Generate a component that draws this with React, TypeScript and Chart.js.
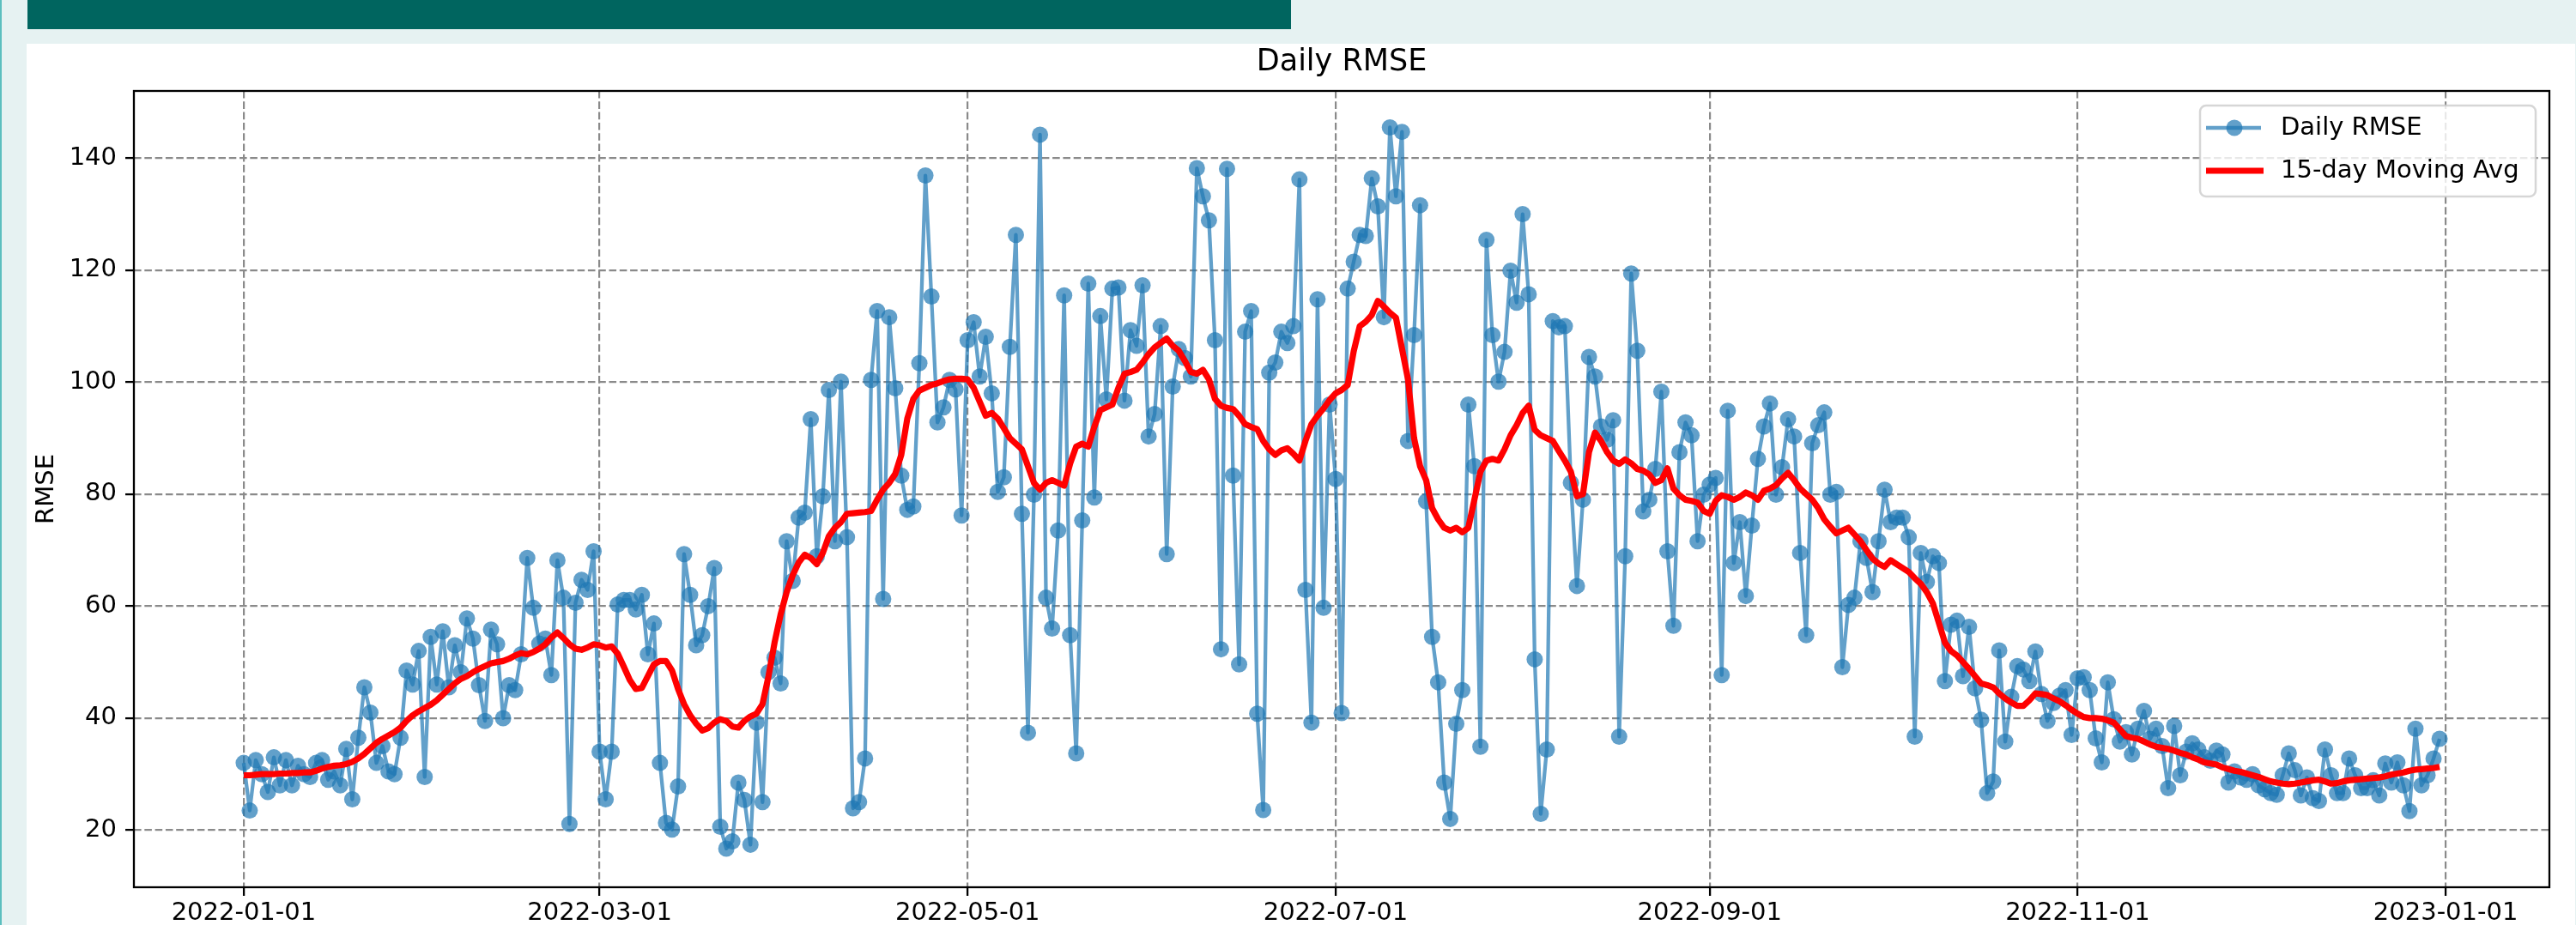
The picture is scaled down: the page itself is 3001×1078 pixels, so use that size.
import React, { useEffect, useRef } from 'react';
import { Chart, registerables } from 'chart.js';

Chart.register(...registerables);

const FONT = '"DejaVu Sans", sans-serif';
const TITLE = 'Daily RMSE';
const Y_LABEL = 'RMSE';
const SERIES_LABELS = ['Daily RMSE', '15-day Moving Avg'];

// x positions are day indices counted from 2022-01-01
const tickDays = [0, 59, 120, 181, 243, 304, 365];
const tickLabels = ['2022-01-01', '2022-03-01', '2022-05-01', '2022-07-01', '2022-09-01', '2022-11-01', '2023-01-01'];
const yTicks = [20, 40, 60, 80, 100, 120, 140];

const dailyRmse = [
  32, 23.5, 32.5, 30, 26.8, 33, 28, 32.5, 28, 31.5,
  30, 29.5, 32, 32.5, 29, 30.5, 28, 34.5, 25.5, 36.5,
  45.5, 41, 32, 35, 30.5, 30, 36.5, 48.5, 46, 52,
  29.5, 54.5, 46, 55.5, 45.5, 53, 48.2, 57.8, 54.2, 45.9,
  39.5, 55.8, 53.2, 40, 45.9, 45, 51.4, 68.6, 59.7, 53.3,
  54.2, 47.7, 68.2, 61.5, 21.1, 60.6, 64.7, 62.9, 69.8, 34,
  25.5, 34, 60.3, 61.1, 61.1, 59.4, 62, 51.4, 56.9, 32,
  21.3, 20.1, 27.8, 69.3, 62, 53, 54.8, 60, 66.8, 20.6,
  16.7, 18, 28.5, 25.4, 17.4, 39.2, 25, 48.2, 50.8, 46.2,
  71.6, 64.5, 75.8, 76.7, 93.4, 68.9, 79.6, 98.6, 71.6, 100.1,
  72.3, 23.9, 25, 32.8, 100.4, 112.7, 61.3, 111.6, 98.9, 83.3,
  77.2, 77.8, 103.4, 136.9, 115.3, 92.8, 95.5, 100.4, 98.7, 76.2,
  107.5, 110.7, 101, 108.1, 98, 80.4, 83, 106.3, 126.3, 76.5,
  37.4, 79.9, 144.2, 61.5, 56, 73.5, 115.5, 54.8, 33.7, 75.3,
  117.6, 79.4, 111.8, 96.9, 116.7, 116.9, 96.7, 109.3, 106.5, 117.3,
  90.3, 94.3, 110, 69.3, 99.2, 105.9, 104.3, 101, 138.2, 133.2,
  128.9, 107.5, 52.3, 138.1, 83.3, 49.6, 109, 112.7, 40.8, 23.6,
  101.7, 103.5, 109, 107, 110, 136.2, 62.9, 39.2, 114.8, 59.7,
  96, 82.7, 40.9, 116.7, 121.5, 126.3, 126.1, 136.4, 131.4, 111.6,
  145.5, 133.2, 144.7, 89.5, 108.4, 131.6, 78.7, 54.5, 46.4, 28.5,
  22, 39, 45, 96, 85, 34.9, 125.4, 108.4, 100.1, 105.4,
  119.9, 114.2, 130, 115.7, 50.5, 22.9, 34.4, 110.9, 109.8, 110,
  82, 63.6, 79, 104.5, 101, 92.1, 89.7, 93.2, 36.7, 68.9,
  119.4, 105.6, 76.9, 79, 84.5, 98.3, 69.8, 56.5, 87.5, 92.8,
  90.5, 71.6, 79.9, 81.7, 82.9, 47.7, 94.9, 67.7, 75, 61.8,
  74.4, 86.3, 92.1, 96.2, 79.9, 84.8, 93.4, 90.3, 69.5, 54.8,
  89.1, 92.3, 94.6, 79.9, 80.4, 49.1, 60.2, 61.5, 71.6, 68.6,
  62.5, 71.6, 80.8, 75, 75.8, 75.8, 72.3, 36.7, 69.5, 64.3,
  68.9, 67.7, 46.6, 56.7, 57.4, 47.5, 56.3, 45.3, 39.7, 26.6,
  28.7, 52.1, 35.8, 43.8, 49.3, 48.7, 46.6, 51.9, 44.3, 39.5,
  42.7, 44, 45, 37, 47.1, 47.3, 45, 36.4, 32.1, 46.4,
  39.8, 35.8, 37.5, 33.5, 38.1, 41.3, 36.3, 38.1, 35, 27.5,
  38.6, 29.8, 34, 35.5, 34.4, 33, 32.4, 34.2, 33.5, 28.5,
  30.5, 29.4, 29, 30, 28, 27.3, 26.6, 26.3, 29.8, 33.7,
  30.7, 26.2, 29.4, 25.7, 25.2, 34.4, 29.8, 26.6, 26.6, 32.8,
  29.8, 27.5, 27.5, 28.9, 26.2, 31.9, 28.5, 32.1, 28, 23.4,
  38.1, 28, 29.8, 32.8, 36.3,
];

const movingAvg = [
  29.8, 29.8, 29.9, 30.0, 30.0, 30.0, 30.1, 30.1, 30.2, 30.2,
  30.3, 30.3, 30.6, 31.0, 31.3, 31.5, 31.6, 31.8, 32.2, 32.8,
  33.6, 34.6, 35.6, 36.3, 36.9, 37.5, 38.3, 39.5, 40.5, 41.2,
  41.8, 42.4, 43.2, 44.2, 45.2, 46.2, 47.0, 47.5, 48.2, 48.8,
  49.3, 49.8, 50.0, 50.2, 50.6, 51.2, 51.6, 51.4, 51.8, 52.4,
  53.2, 54.4, 55.3, 54.3, 53.2, 52.4, 52.2, 52.6, 53.2, 53.0,
  52.6, 52.8, 51.5, 49.2, 46.8, 45.2, 45.4, 47.5, 49.6, 50.2,
  50.2, 48.5, 45.2, 42.5, 40.5, 39.0, 37.8, 38.2, 39.2, 39.8,
  39.5, 38.5, 38.3, 39.5, 40.3, 40.8, 42.5, 47.5, 53.5, 58.5,
  62.5, 65.5, 67.8, 69.2, 68.6, 67.5, 69.5, 72.5, 74.0, 75.0,
  76.5, 76.6, 76.7, 76.8, 77.0, 79.0, 80.8, 82.0, 83.6, 87.0,
  93.5, 97.0, 98.5, 99.0, 99.5, 99.8, 100.2, 100.5, 100.6, 100.6,
  100.5, 99.0, 96.5, 94.0, 94.5, 93.5, 91.8, 90.0, 89.0, 88.0,
  85.0, 82.0, 80.8, 82.0, 82.5, 82.0, 81.5, 85.5, 88.5, 89.0,
  88.5, 92.0, 95.0, 95.5, 96.0, 99.0, 101.5, 101.8, 102.2, 103.5,
  105.0, 106.2, 107.0, 107.8, 106.5, 105.6, 103.8, 101.8, 101.5, 102.2,
  100.5, 97.0, 95.8, 95.4, 95.2, 94.0, 92.5, 92.0, 91.6, 89.5,
  88.0, 87.0, 87.8, 88.2, 87.2, 86.0, 89.5, 92.5, 94.0, 95.3,
  96.8, 98.0, 98.6, 99.5, 105.5, 110.0, 110.8, 112.0, 114.5, 113.5,
  112.4, 111.5, 106.0, 100.5, 90.0, 85.0, 82.5, 77.5, 75.5, 74.0,
  73.5, 74.0, 73.2, 74.0, 79.0, 84.0, 86.0, 86.3, 86.0, 88.0,
  90.5, 92.3, 94.5, 95.8, 91.5, 90.5, 90.0, 89.5, 87.7, 86.0,
  84.0, 79.6, 80.0, 87.5, 91.0, 89.5, 87.5, 86.0, 85.4, 86.2,
  85.5, 84.5, 84.2, 83.5, 82.0, 82.5, 84.6, 81.0, 79.8, 79.0,
  78.8, 78.5, 77.0, 76.5, 78.8, 79.8, 79.5, 79.0, 79.5, 80.3,
  79.8, 79.0, 80.6, 81.0, 81.6, 82.8, 83.8, 82.5, 81.0, 80.0,
  79.0, 77.5, 75.5, 74.2, 73.0, 73.5, 74.0, 72.8, 71.6, 70.0,
  68.5, 67.6, 67.0, 68.2, 67.5, 66.8, 66.1, 65.0, 64.0, 62.5,
  60.5, 57.0, 53.5, 52.0, 51.2, 50.0, 48.8, 47.5, 46.2, 45.9,
  45.5, 44.4, 43.5, 42.8, 42.2, 42.2, 43.2, 44.4, 44.3, 44.1,
  43.5, 43.0, 42.3, 41.5, 40.8, 40.2, 40.0, 40.0, 39.9, 39.6,
  39.2, 38.0, 36.8, 36.5, 36.3, 35.8, 35.3, 34.9, 34.7, 34.5,
  34.2, 33.8, 33.5, 33.0, 32.6, 32.1, 31.9, 31.7, 31.2, 30.9,
  30.6, 30.4, 30.1, 29.8, 29.5, 29.1, 28.7, 28.5, 28.3, 28.2,
  28.3, 28.5, 28.7, 28.9, 29.0, 28.7, 28.3, 28.4, 28.7, 28.9,
  29.0, 29.1, 29.2, 29.3, 29.4, 29.6, 29.9, 30.1, 30.3, 30.6,
  30.8, 30.9, 31.0, 31.1, 31.3,
];

const BLUE = 'rgba(31,119,180,0.7)';
const RED = '#ff0000';
const GRID = '#8a8a8a';

export default function App() {
  const ref = useRef<HTMLCanvasElement>(null);

  useEffect(() => {
    const canvas = ref.current;
    if (!canvas) return;

    const decor = {
      id: 'decor',
      afterDatasetsDraw(chart: any) {
        const { ctx, chartArea: a } = chart;
        ctx.save();
        ctx.setLineDash([]);
        // frame
        ctx.strokeStyle = '#000';
        ctx.lineWidth = 2.3;
        ctx.strokeRect(a.left, a.top, a.right - a.left, a.bottom - a.top);
        // title
        ctx.fillStyle = '#000';
        ctx.font = `35px ${FONT}`;
        ctx.textAlign = 'center';
        ctx.textBaseline = 'middle';
        ctx.fillText(TITLE, (a.left + a.right) / 2, 22);
        // legend
        const W = 391;
        const H = 106;
        const L = a.right - 16 - W;
        const T = a.top + 17;
        ctx.beginPath();
        ctx.roundRect(L, T, W, H, 7);
        ctx.fillStyle = 'rgba(255,255,255,0.8)';
        ctx.fill();
        ctx.lineWidth = 2.5;
        ctx.strokeStyle = 'rgba(204,204,204,0.8)';
        ctx.stroke();
        ctx.lineCap = 'butt';
        ctx.strokeStyle = BLUE;
        ctx.lineWidth = 4.3;
        ctx.beginPath();
        ctx.moveTo(L + 7, T + 26);
        ctx.lineTo(L + 71, T + 26);
        ctx.stroke();
        ctx.fillStyle = BLUE;
        ctx.beginPath();
        ctx.arc(L + 40, T + 26, 9.5, 0, Math.PI * 2);
        ctx.fill();
        ctx.strokeStyle = RED;
        ctx.lineWidth = 7.2;
        ctx.beginPath();
        ctx.moveTo(L + 7, T + 76);
        ctx.lineTo(L + 74, T + 76);
        ctx.stroke();
        ctx.fillStyle = '#000';
        ctx.font = `29px ${FONT}`;
        ctx.textAlign = 'left';
        ctx.textBaseline = 'middle';
        ctx.fillText(SERIES_LABELS[0], L + 94, T + 26);
        ctx.fillText(SERIES_LABELS[1], L + 94, T + 76);
        ctx.restore();
      },
    };

    const chart = new Chart(canvas, {
      type: 'line',
      data: {
        datasets: [
          {
            label: SERIES_LABELS[0],
            data: dailyRmse.map((v, i) => ({ x: i, y: v })),
            borderColor: BLUE,
            backgroundColor: BLUE,
            borderWidth: 4.3,
            pointRadius: 9.5,
            pointBorderWidth: 0,
            pointBackgroundColor: BLUE,
            pointBorderColor: BLUE,
            tension: 0,
            borderJoinStyle: 'round',
            order: 2,
          },
          {
            label: SERIES_LABELS[1],
            data: movingAvg.map((v, i) => ({ x: i, y: v })),
            borderColor: RED,
            backgroundColor: RED,
            borderWidth: 7.2,
            pointRadius: 0,
            tension: 0,
            borderJoinStyle: 'round',
            order: 1,
          },
        ],
      },
      options: {
        animation: false,
        responsive: false,
        devicePixelRatio: 1,
        events: [],
        layout: { padding: { left: 0, right: 29, top: 55, bottom: 0 } },
        plugins: {
          legend: { display: false },
          title: { display: false },
          tooltip: { enabled: false },
        },
        scales: {
          x: {
            type: 'linear',
            min: -18.2,
            max: 382.2,
            afterBuildTicks: (s: any) => {
              s.ticks = tickDays.map((v) => ({ value: v }));
            },
            afterFit: (s: any) => {
              s.height = 44;
            },
            ticks: {
              autoSkip: false,
              maxRotation: 0,
              minRotation: 0,
              padding: 3,
              color: '#000',
              font: { family: FONT, size: 29 },
              callback: (v: any) => {
                const k = tickDays.indexOf(Number(v));
                return k >= 0 ? tickLabels[k] : '';
              },
            },
            grid: {
              color: GRID,
              lineWidth: 2.2,
              drawTicks: true,
              tickLength: 10,
              tickColor: '#000',
              tickWidth: 2.3,
            },
            border: { display: false, dash: [8.6, 3.7] },
          },
          y: {
            type: 'linear',
            min: 9.8,
            max: 152,
            afterBuildTicks: (s: any) => {
              s.ticks = yTicks.map((v) => ({ value: v }));
            },
            afterFit: (s: any) => {
              s.width = 125;
            },
            ticks: {
              autoSkip: false,
              padding: 10,
              color: '#000',
              font: { family: FONT, size: 29 },
              callback: (v: any) => String(v),
            },
            grid: {
              color: GRID,
              lineWidth: 2.2,
              drawTicks: true,
              tickLength: 10,
              tickColor: '#000',
              tickWidth: 2.3,
            },
            border: { display: false, dash: [8.6, 3.7] },
            title: {
              display: true,
              text: Y_LABEL,
              color: '#000',
              font: { family: FONT, size: 29 },
              padding: { top: 6, bottom: 0 },
            },
          },
        },
      },
      plugins: [decor],
    } as any);

    return () => chart.destroy();
  }, []);

  return (
    <div
      style={{
        position: 'fixed',
        left: 0,
        top: 0,
        width: 3001,
        height: 1078,
        background: '#e6f2f2',
        overflow: 'hidden',
      }}
    >
      <div style={{ position: 'absolute', left: 0, top: 0, width: 2, height: 1078, background: '#5cbfbf' }} />
      <div style={{ position: 'absolute', left: 32, top: 0, width: 1472, height: 34, background: '#00655f' }} />
      <div style={{ position: 'absolute', left: 31, top: 51, width: 2969, height: 1027, background: '#ffffff' }}>
        <canvas
          ref={ref}
          width={2968}
          height={1027}
          style={{ display: 'block', width: 2968, height: 1027 }}
        />
      </div>
    </div>
  );
}
